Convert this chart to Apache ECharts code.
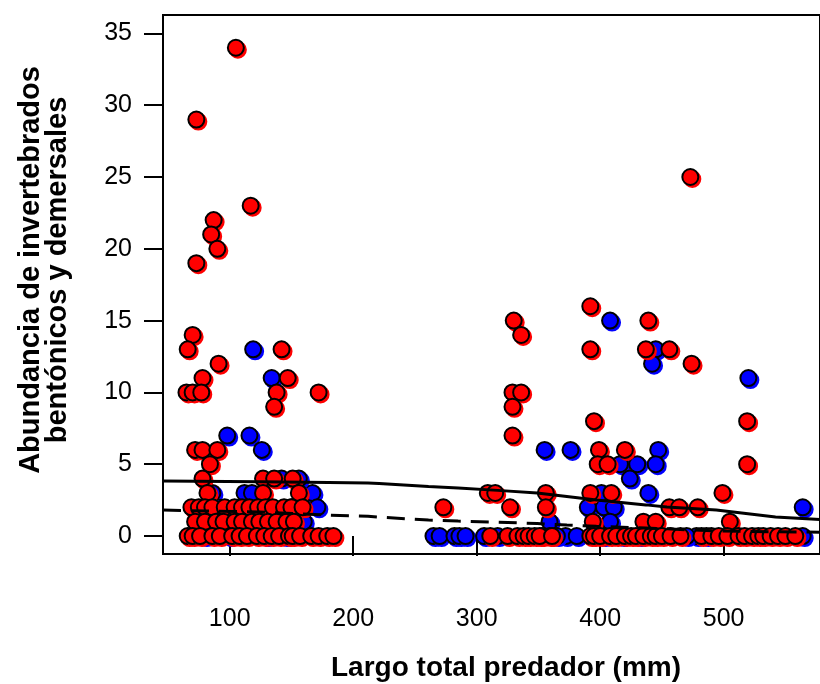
<!DOCTYPE html>
<html>
<head>
<meta charset="utf-8">
<script src="https://cdn.jsdelivr.net/npm/echarts@6/dist/echarts.min.js"></script>
<style>
  html, body { margin: 0; padding: 0; background: #fff; }
  #chart { width: 820px; height: 684px; }
</style>
</head>
<body>
<div id="chart"></div>
<script>
// tick labels
var xTicks = [100, 200, 300, 400, 500];
var yTicks = [0, 5, 10, 15, 20, 25, 30, 35];

// puntos azules (largo, abundancia)
var blueLength = [119, 134, 98, 116, 126, 86, 112, 118, 167, 142, 156, 171, 80, 100, 130, 160, 90, 150, 108, 145,
    408, 445, 442, 520, 355, 376, 447, 416, 430, 445, 424, 439, 564, 390, 403, 411, 408, 359, 401,
    265, 270, 282, 286, 291, 306, 317, 372, 381, 478, 486, 403, 418, 470, 564, 365, 432];
var blueAbund = [13, 11, 7, 7, 6, 3, 3, 3, 3, 4, 4, 2, 0, 0, 0, 1, 2, 2, 1, 0,
    15, 13, 12, 11, 6, 6, 6, 5, 5, 5, 4, 3, 2, 2, 2, 2, 1, 1, 3,
    0, 0, 0, 0, 0, 0, 0, 0, 0, 0, 0, 0, 0, 0, 0, 0, 0];

// puntos rojos (largo, abundancia)
var redLength = [105, 73, 117, 87, 85, 90, 73, 70, 66, 142, 91, 78, 147, 65, 70, 77, 138, 172, 136,
    72, 78, 90, 84, 78, 127, 136, 151, 82, 127, 156,
    69, 75, 80, 86, 96, 104, 110, 116, 123, 129, 135, 144, 150, 159,
    72, 80, 89, 95, 104, 110, 118, 124, 131, 138, 146, 152,
    66, 70, 76, 86, 92, 102, 108, 114, 122, 128, 134, 140, 148, 151, 157, 166, 172, 179, 184,
    473, 330, 336, 392, 439, 392, 437, 456, 474, 329, 336, 329, 329, 395, 519, 399, 420, 398, 406, 519,
    356, 392, 409, 499, 309, 315, 273, 327, 356, 456, 464, 479, 505, 435, 445, 394,
    311, 325, 333, 338, 342, 347, 353, 359, 351, 361, 392, 395, 400, 408, 413, 420, 425, 429, 435, 441, 445, 450, 457, 465,
    482, 490, 496, 503, 512, 517, 523, 528, 532, 538, 544, 550, 558];
var redAbund = [34, 29, 23, 22, 21, 20, 19, 14, 13, 13, 12, 11, 11, 10, 10, 10, 10, 10, 9,
    6, 6, 6, 5, 4, 4, 4, 4, 3, 3, 3,
    2, 2, 2, 2, 2, 2, 2, 2, 2, 2, 2, 2, 2, 2,
    1, 1, 1, 1, 1, 1, 1, 1, 1, 1, 1, 1,
    0, 0, 0, 0, 0, 0, 0, 0, 0, 0, 0, 0, 0, 0, 0, 0, 0, 0, 0,
    25, 15, 14, 16, 15, 13, 13, 13, 12, 10, 10, 9, 7, 8, 8, 6, 6, 5, 5, 5,
    3, 3, 3, 3, 3, 3, 2, 2, 2, 2, 2, 2, 1, 1, 1, 1,
    0, 0, 0, 0, 0, 0, 0, 0, 0, 0, 0, 0, 0, 0, 0, 0, 0, 0, 0, 0, 0, 0, 0, 0,
    0, 0, 0, 0, 0, 0, 0, 0, 0, 0, 0, 0, 0];

// curvas ajustadas
var fitX = [46, 124, 180, 212, 221, 261, 285, 317, 349, 373, 397, 437, 454, 494, 542, 578];
var fitSolid = [3.83, 3.78, 3.72, 3.69, 3.66, 3.45, 3.34, 3.18, 2.99, 2.75, 2.51, 2.17, 2.02, 1.81, 1.32, 1.15];
var fitDashed = [1.81, 1.67, 1.46, 1.38, 1.32, 1.11, 1.04, 0.97, 0.87, 0.77, 0.68, 0.56, 0.5, 0.35, 0.3, 0.27];

function pairs(xs, ys) {
    var res = [];
    for (var i = 0; i < xs.length; i++) {
        res.push([xs[i], ys[i]]);
    }
    return res;
}

function pointSeries(data, color) {
    return {
        type: 'scatter',
        data: data,
        symbol: 'circle',
        symbolSize: 16,
        z: 2,
        itemStyle: {
            color: color,
            borderColor: '#000',
            borderWidth: 2,
            opacity: 1,
            shadowColor: color,
            shadowBlur: 0,
            shadowOffsetX: 2,
            shadowOffsetY: 2
        },
        emphasis: { disabled: true }
    };
}

var font = "'Liberation Sans', Arial, sans-serif";
var myChart = echarts.init(document.getElementById('chart'));
myChart.setOption({
    animation: false,
    backgroundColor: '#fff',
    grid: {
        left: 163,
        top: 15,
        width: 662,
        height: 539,
        show: true,
        borderColor: '#000',
        borderWidth: 2
    },
    xAxis: {
        type: 'value',
        min: 46,
        max: 578,
        axisLine: { show: false },
        splitLine: { show: false },
        axisTick: {
            show: true, inside: false, length: 20, customValues: xTicks,
            lineStyle: { color: '#000', width: 2 }
        },
        axisLabel: {
            customValues: xTicks, margin: 53,
            color: '#000', fontSize: 25, fontFamily: font
        }
    },
    yAxis: {
        type: 'value',
        min: -1.25,
        max: 36.28,
        axisLine: { show: false },
        splitLine: { show: false },
        axisTick: {
            show: true, inside: false, length: 19, customValues: yTicks,
            lineStyle: { color: '#000', width: 2 }
        },
        axisLabel: {
            customValues: yTicks, margin: 31,
            color: '#000', fontSize: 25, fontFamily: font
        }
    },
    graphic: [
        {
            type: 'text',
            x: 506,
            y: 668,
            style: {
                text: 'Largo total predador (mm)',
                font: 'bold 28px ' + font,
                fill: '#000',
                textAlign: 'center',
                textVerticalAlign: 'middle'
            }
        },
        {
            type: 'text',
            x: 44,
            y: 270,
            rotation: Math.PI / 2,
            style: {
                text: 'Abundancia de invertebrados\nbentónicos y demersales',
                font: 'bold 29px ' + font,
                lineHeight: 27,
                fill: '#000',
                textAlign: 'center',
                textVerticalAlign: 'middle'
            }
        }
    ],
    series: [
        pointSeries(pairs(blueLength, blueAbund), '#0000ff'),
        pointSeries(pairs(redLength, redAbund), '#ff0000'),
        {
            type: 'line',
            data: pairs(fitX, fitSolid),
            symbol: 'none',
            z: 5,
            lineStyle: { color: '#000', width: 3 },
            emphasis: { disabled: true }
        },
        {
            type: 'line',
            data: pairs(fitX, fitDashed),
            symbol: 'none',
            z: 5,
            lineStyle: { color: '#000', width: 3, type: [18, 10] },
            emphasis: { disabled: true }
        }
    ]
});
</script>
</body>
</html>
